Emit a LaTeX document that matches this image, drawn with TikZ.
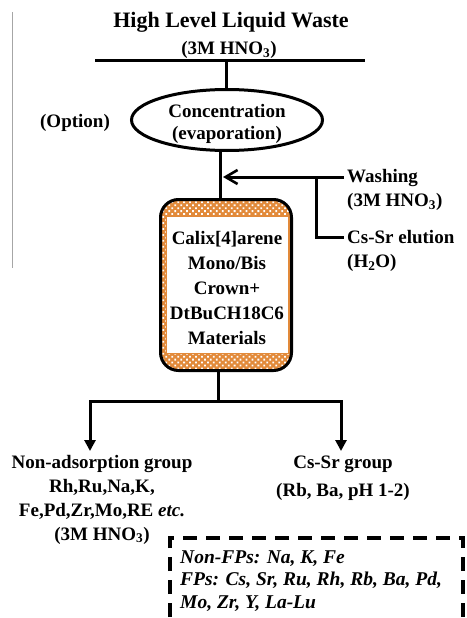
\documentclass[tikz,border=0pt]{standalone}
\usepackage{fontspec}
\setmainfont{Liberation Serif}
\usetikzlibrary{arrows.meta,shapes.geometric,patterns.meta}
\definecolor{corange}{RGB}{226,138,58}
\begin{document}
\begin{tikzpicture}[x=1pt,y=-1pt,
  lbl/.style={font=\fontsize{19}{24}\selectfont\bfseries, inner sep=0pt, align=center},
  conn/.style={line width=3pt, line cap=rect},
  openarr/.style={conn, -{Straight Barb[length=12pt,width=14pt,line width=2.6pt]}},
  downarr/.style={line width=3pt, -{Triangle[length=11pt,width=11pt]}},
  dashbox/.style={line width=4pt, dash pattern=on 14pt off 9pt},
]
\useasboundingbox (0,0) rectangle (466,618);
\clip (0,0) rectangle (466,618);

% thin gray margin line
\draw[gray!70, line width=1pt] (12,12) -- (12,268);

% title
\node[lbl, font=\fontsize{22}{26}\selectfont\bfseries] (title) at (231,22) {High Level Liquid Waste};
\node[lbl] (hno) at (229,50) {(3M HNO\textsubscript{3})};

% top bar
\coordinate (tl) at (95,61);
\coordinate (tr) at (365,61);
\coordinate (tm) at (226,61);
\draw[conn, line cap=butt] (tl) -- (tr);

% concentration ellipse
\node[draw, ellipse, line width=3pt, minimum width=191pt, minimum height=61pt, inner sep=0pt] (conc) at (227,120) {};
\node[lbl, font=\fontsize{19}{22}\selectfont\bfseries] (conctxt) at (227,124) {Concentration\\(evaporation)};
\node[lbl] (opt) at (75,123) {(Option)};
\draw[conn, line cap=butt] (tm) -- (tm |- conc.north);

% column
\node[draw, line width=3pt, rounded corners=18pt, minimum width=131pt, minimum height=171pt,
      preaction={fill=corange}, pattern={Dots[radius=1.25pt,distance=4.2pt,angle=45]}, pattern color=white,
      inner sep=0pt] (col) at (226,285) {};
\fill[white] (166,216) rectangle (288,353);
\draw[corange, line width=0.8pt] (166,216) rectangle (288,353);
\node[lbl, font=\fontsize{19}{25}\selectfont\bfseries] (mat) at (227,288) {Calix[4]arene\\Mono/Bis\\Crown+\\DtBuCH18C6\\Materials};

% stem between ellipse and column
\coordinate (s1) at (220,150);
\coordinate (s2) at (220,199);
\draw[conn, line cap=butt] (s1) -- (s2);

% washing / elution feed
\node[lbl, anchor=west, align=left] (wash) at (347,190) {Washing\\(3M HNO\textsubscript{3})};
\node[lbl, anchor=west, align=left] (elut) at (347,251) {Cs-Sr elution\\(H\textsubscript{2}O)};
\coordinate (wa) at (344,177);
\coordinate (wt) at (223,177);
\coordinate (wb) at (316,177);
\coordinate (ea) at (344,237);
\draw[openarr, line cap=butt] (wa) -- (wt);
\draw[conn, line cap=butt] (wb) -- (wb |- ea) -- (ea);

% outlet
\coordinate (b0) at (218,372);
\coordinate (b1) at (218,401);
\coordinate (bl) at (90,401);
\coordinate (br) at (341,401);
\coordinate (al) at (90,451);
\coordinate (ar) at (341,451);
\draw[conn, line cap=butt] (b0) -- (b1);
\draw[conn] (bl) -- (br);
\draw[downarr] (bl) -- (al);
\draw[downarr] (br) -- (ar);

% product groups
\node[lbl] (nonads) at (102,499.5) {Non-adsorption group\\Rh,Ru,Na,K,\\Fe,Pd,Zr,Mo,RE \textit{etc.}\\(3M HNO\textsubscript{3})};
\node[lbl, font=\fontsize{19}{28}\selectfont\bfseries] (cssr) at (343,478) {Cs-Sr group\\(Rb, Ba, pH 1-2)};

% dashed legend box
\coordinate (d1) at (170,640);
\coordinate (d2) at (170,538);
\coordinate (d3) at (463,538);
\coordinate (d4) at (463,640);
\draw[dashbox] (d1) -- (d2) -- (d3) -- (d4);
\node[lbl, anchor=west, align=left, font=\fontsize{19.5}{22.5}\selectfont\bfseries\itshape] (fps) at (180,581)
  {Non-FPs: Na, K, Fe\\FPs: Cs, Sr, Ru, Rh, Rb, Ba, Pd,\\Mo, Zr, Y, La-Lu};
\end{tikzpicture}
\end{document}
